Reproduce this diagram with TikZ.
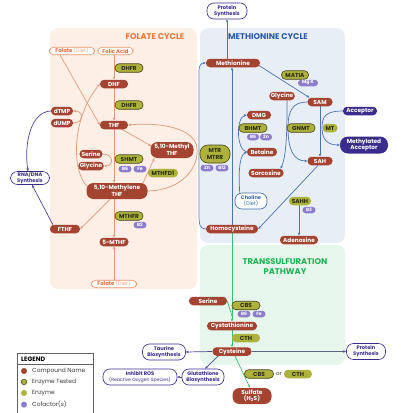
\documentclass[tikz,border=0pt]{standalone}
\usepackage{fontspec}
\setmainfont{Poppins}
\usetikzlibrary{arrows.meta,calc}
\definecolor{folbg}{HTML}{FDEEE6}
\definecolor{metbg}{HTML}{E8EEF6}
\definecolor{trabg}{HTML}{E6F6EC}
\definecolor{foltit}{HTML}{EB7A3A}
\definecolor{mettit}{HTML}{2A5AA6}
\definecolor{tratit}{HTML}{1DB355}
\definecolor{cmpc}{HTML}{A4432F}
\definecolor{enzc}{HTML}{ADB23B}
\definecolor{enzd}{HTML}{46461A}
\definecolor{enzt}{HTML}{2C2C10}
\definecolor{cofc}{HTML}{8C7DCB}
\definecolor{purc}{HTML}{3A2C8C}
\definecolor{follc}{HTML}{DE9C7C}
\definecolor{metlc}{HTML}{4A74AE}
\definecolor{tralc}{HTML}{40BE70}
\definecolor{purlc}{HTML}{4E4894}
\definecolor{slc}{HTML}{5A6783}
\definecolor{folb}{HTML}{E9956A}
\definecolor{folt}{HTML}{E06A38}
\definecolor{folt2}{HTML}{F0A888}
\definecolor{chol}{HTML}{3D6BB0}
\definecolor{legt}{HTML}{3A3A3A}
\newcommand\myfs[2]{\fontsize{#1}{#2}\selectfont}
\pgfdeclarelayer{panel}
\pgfdeclarelayer{edges}
\pgfsetlayers{panel,edges,main}
\begin{document}
\begin{tikzpicture}[x=1pt,y=-1pt,
  base/.style={rounded corners=4pt, minimum height=8.5pt, inner xsep=1.5pt, inner ysep=0pt, align=center, font=\myfs{5.8}{6.4}\bfseries},
  cmp/.style={base, fill=cmpc, text=white},
  cmp2/.style={base, fill=cmpc, text=white, rounded corners=7pt, minimum height=16pt},
  enzT/.style={base, fill=enzc, draw=enzd, line width=0.6pt, text=enzt},
  enz/.style={base, fill=enzc, text=enzt},
  cof/.style={base, fill=cofc, text=white, minimum height=6.5pt, rounded corners=3.2pt, font=\myfs{4.6}{5}\bfseries, minimum width=13pt, inner xsep=1pt},
  outp/.style={base, draw=purc, fill=white, text=purc, line width=0.6pt, rounded corners=7pt, minimum height=15pt, font=\myfs{5.1}{5.8}\bfseries},
  outf/.style={base, draw=folb, fill=white, text=folt, line width=0.6pt, minimum height=7.5pt, font=\myfs{5.3}{5.8}\bfseries},
  dark/.style={base, fill=purc, text=white},
  ttl/.style={font=\myfs{8.3}{10}\bfseries, align=center},
  fl/.style={draw=follc, line width=0.7pt},
  ml/.style={draw=metlc, line width=0.7pt},
  tl/.style={draw=tralc, line width=0.7pt},
  pl/.style={draw=purlc, line width=0.7pt},
  sl/.style={draw=slc, line width=0.7pt},
  arr/.style={-{Stealth[length=3pt,width=2.6pt]}},
  legtxt/.style={anchor=west, font=\myfs{5.9}{6.5}, text=legt, inner sep=0pt}
]
\useasboundingbox (0,0) rectangle (400,413);

% panels
\begin{pgfonlayer}{panel}
\fill[folbg, rounded corners=8pt] (50,28) rectangle (197,289);
\fill[metbg, rounded corners=8pt] (200,28) rectangle (345,243);
\fill[trabg, rounded corners=8pt] (200,245) rectangle (345,365);
\end{pgfonlayer}

% titles
\node[ttl, text=foltit] (tfol) at (155,37) {FOLATE CYCLE};
\node[ttl, text=mettit] (tmet) at (268,37) {METHIONINE CYCLE};
\node[ttl, text=tratit] (ttra) at (285,267) {TRANSSULFURATION\\PATHWAY};

% folate nodes
\node[outf, minimum width=45pt] (fdiet) at (72,51) {Folate \textcolor{folt2}{\mdseries(Diet)}};
\node[outf, minimum width=35pt] (facid) at (115.5,51) {Folic Acid};
\node[enzT, minimum width=28pt] (dhfr1) at (129,68) {DHFR};
\node[cmp, minimum width=28pt] (dhf) at (114,84) {DHF};
\node[enzT, minimum width=28pt] (dhfr2) at (129,105) {DHFR};
\node[cmp, minimum width=22pt] (dtmp) at (62,111) {dTMP};
\node[cmp, minimum width=22pt] (dump) at (62,123) {dUMP};
\node[cmp, minimum width=28pt] (thf) at (114,125) {THF};
\node[cmp, minimum width=23pt] (ser1) at (91,154) {Serine};
\node[cmp, minimum width=23pt] (gly1) at (91,166) {Glycine};
\node[enzT, minimum width=28pt] (shmt) at (129,159) {SHMT};
\node[cof] (b6a) at (125,169) {B6};
\node[cof] (fea) at (140,169) {Fe};
\node[cmp2, minimum width=43pt] (methyl) at (172,150) {5,10-Methyl\\THF};
\node[enz, minimum width=30pt] (mthfd) at (163,173) {MTHFD1};
\node[cmp2, minimum width=61pt] (mlene) at (117,191) {5,10-Methylene\\THF};
\node[enzT, minimum width=28pt] (mthfr) at (129,216) {MTHFR};
\node[cof] (b2) at (140,225) {B2};
\node[cmp, minimum width=30pt] (fthf) at (65,229) {FTHF};
\node[cmp, minimum width=29pt] (mthf) at (114,242) {5-MTHF};
\node[outf, minimum width=45pt] (fdiet2) at (114,284) {Folate \textcolor{folt2}{\mdseries(Diet)}};
\node[outp, minimum width=39pt, minimum height=13pt] (rna) at (30,178) {RNA/DNA\\Synthesis};

% methionine nodes
\node[outp, minimum width=40pt, minimum height=16pt] (prot1) at (227,11) {Protein\\Synthesis};
\node[cmp, minimum width=54pt] (met) at (233,63) {Methionine};
\node[enzT, minimum width=27pt] (matia) at (295,75) {MATIA};
\node[cof, minimum width=20pt] (mgk) at (308,83) {Mg K};
\node[cmp, minimum width=24pt] (gly2) at (282,96) {Glycine};
\node[cmp, minimum width=25pt] (sam) at (320,102) {SAM};
\node[cmp, minimum width=24pt] (dmg) at (259,115) {DMG};
\node[dark, minimum width=34pt] (acc) at (360,111) {Acceptor};
\node[enzT, minimum width=28pt] (bhmt) at (253,128) {BHMT};
\node[enzT, minimum width=28pt] (gnmt) at (301,128) {GNMT};
\node[enz, minimum width=15pt] (mt) at (330,128) {MT};
\node[cof, minimum width=12pt] (b6b) at (253,137) {B6};
\node[cof, minimum width=12pt] (znb) at (266,137) {Zn};
\node[dark, minimum width=48pt, minimum height=17pt, rounded corners=8pt] (macc) at (364,145) {Methylated\\Acceptor};
\node[enzT, minimum width=30pt, minimum height=18pt, rounded corners=8pt] (mtr) at (215,154) {MTR\\MTRR};
\node[cof] (znc) at (207,168) {Zn};
\node[cof] (b12) at (222,168) {B12};
\node[cmp, minimum width=30pt] (bet) at (262,152) {Betaine};
\node[cmp, minimum width=25pt] (sah) at (320,161) {SAH};
\node[cmp, minimum width=35pt] (sarc) at (266,173) {Sarcosine};
\node[base, draw=chol, fill=white, text=chol, line width=0.6pt, rounded corners=7pt, minimum width=32pt, minimum height=16pt, font=\myfs{5.1}{6}] (chol) at (251,201) {\textbf{Choline}\\(Diet)};
\node[enz, minimum width=22pt] (sahh) at (300,201) {SAHH};
\node[cof] (b3) at (309,210) {B3};
\node[cmp, minimum width=52pt] (hcy) at (232,229) {Homocysteine};
\node[cmp, minimum width=38pt] (ado) at (299,240) {Adenosine};

% transsulfuration nodes
\node[cmp, minimum width=38pt] (ser2) at (208,301) {Serine};
\node[enzT, minimum width=28pt] (cbs1) at (246,305.5) {CBS};
\node[cof] (b6c) at (244,314) {B6};
\node[cof] (fec) at (259,314) {Fe};
\node[cmp, minimum width=50pt] (cyst) at (232,326) {Cystathionine};
\node[enz, minimum width=28pt] (cth1) at (246,338) {CTH};
\node[cmp, minimum width=39pt] (cys) at (232,351.5) {Cysteine};
\node[outp, minimum width=39pt, minimum height=16pt] (prot2) at (366,351.5) {Protein\\Synthesis};
\node[enzT, minimum width=29pt] (cbs2) at (259,374) {CBS};
\node[font=\myfs{5.6}{6}, text=legt] (or) at (279,374) {or};
\node[enz, minimum width=28pt] (cth2) at (298,374) {CTH};
\node[cmp2, minimum width=39pt] (sulf) at (252,396) {Sulfate\\(H\textsubscript{2}S)};
\node[outp, minimum width=43pt, minimum height=16pt] (taur) at (164,352) {Taurine\\Biosynthesis};
\node[outp, minimum width=42pt, minimum height=16pt] (glut) at (203,377) {Glutathione\\Biosynthesis};
\node[outp, minimum width=74pt, minimum height=16pt] (ros) at (140,377) {Inhibit ROS\\{\mdseries\myfs{4.6}{5.5}(Reactive Oxygen Species)}};

\coordinate (sj) at (232,316);

% edges
\begin{pgfonlayer}{edges}
% folate
\draw[fl,arr] (dhf.north |- facid.south) -- (dhf.north);
\draw[fl,arr] (dhf.south) -- (thf.north);
\draw[fl,arr] (thf.south) -- (mlene.north -| thf.south);
\draw[fl,arr] (mlene.south -| mthf.north) -- (mthf.north);
\draw[fl,arr] (fdiet2.north) -- (mthf.south);
\draw[fl,arr] ($(fdiet.south)+(-12,0)$) -- (thf.west);
\draw[fl,arr] ($(mlene.west)+(2,-4)$) .. controls (72,175) and (70,120) .. (dhf.west);
\draw[fl,arr] (dump.east) .. controls (84,123) and (84,111) .. (dtmp.east);
\draw[fl,arr] (ser1.east) .. controls (114,154) and (114,166) .. (gly1.east);
\draw[fl,arr] ($(thf.south east)+(-8,-1)$) -- ($(methyl.west)+(1,-4)$);
\draw[fl,arr] ($(mlene.north east)+(-5,1)$) -- ($(methyl.south west)+(4,0)$);
\draw[fl,arr] (mlene.east) .. controls (185,190) and (199,165) .. (197,148) .. controls (195,128) and (160,122) .. (thf.east);
\draw[fl,arr] ($(mlene.south west)+(24,0)$) -- (fthf.east);
\draw[pl,arr] ($(fthf.north west)+(3,0)$) -- ($(rna.south)+(2,0)$);
\draw[pl,arr] (dtmp.west) .. controls (30,112) and (24,145) .. ($(rna.north)+(-2,0)$);
% methionine
\draw[ml,arr] (prot1.south |- met.north) -- (prot1.south);
\draw[ml,arr] ($(met.east)+(-2,2)$) -- ($(sam.north west)+(2,0)$);
\draw[ml,arr] (sam.south) -- (sah.north);
\draw[ml,arr] (acc.west) .. controls (326,111) and (322,116) .. (322,128) .. controls (322,140) and (328,145) .. (macc.west);
\draw[ml,arr] (sam.west) .. controls (293,102) and (288,110) .. (288,128) .. controls (288,148) and (293,161) .. (sah.west);
\draw[ml,arr] ($(gly2.south)+(5,0)$) .. controls (287,125) and (287,155) .. ($(sarc.north east)+(-3,0)$);
\draw[ml,arr] (bet.west) .. controls (236,150) and (236,117) .. (dmg.west);
\draw[ml,arr] ($(chol.north west)+(5,0)$) .. controls (239,180) and (238,156) .. (bet.west);
\draw[ml,arr] (hcy.north) -- (met.south -| hcy.north);
\draw[ml,arr] (hcy.west) .. controls (200,229) and (199,225) .. (199,215) -- (199,72) .. controls (199,65) and (201,63) .. (met.west);
\draw[ml,arr] ($(sah.south)+(-2,0)$) -- (hcy.east);
\draw[ml,arr] (sahh.south -| ado.north) -- (ado.north);
% transsulfuration
\draw[tl,arr] (hcy.south) -- (cyst.north);
\draw[tl] (ser2.east) -- (sj);
\draw[tl,arr] (cyst.south) -- (cys.north);
\draw[tl,arr] ($(cys.south)+(3,0)$) -- ($(sulf.north)+(-2,0)$);
\draw[sl,arr] (cys.east) -- (prot2.west);
\draw[pl,arr] (cys.west) -- (taur.east);
\draw[pl,arr] ($(cys.south west)+(6,0)$) -- ($(glut.north)+(2,0)$);
\draw[pl,arr] (glut.west) -- (ros.east);
\end{pgfonlayer}

% legend
\draw[draw=legt!80, line width=0.6pt, fill=white] (17,353) rectangle (93,416);
\draw[draw=legt!80, line width=0.6pt] (17,364) -- (93,364);
\node[anchor=west, font=\myfs{6.3}{7}\bfseries, text=black, inner sep=0pt] (lgh) at (21,359) {LEGEND};
\fill[cmpc] (24,371) circle (3pt);
\node[legtxt] (lg1) at (32,371) {Compound Name};
\filldraw[fill=enzc, draw=enzd, line width=0.6pt] (24,382) circle (2.7pt);
\node[legtxt] (lg2) at (32,382) {Enzyme Tested};
\fill[enzc] (24,393) circle (3pt);
\node[legtxt] (lg3) at (32,393) {Enzyme};
\fill[cofc] (24,404.6) circle (3pt);
\node[legtxt] (lg4) at (32,404.6) {Cofactor(s)};
\end{tikzpicture}
\end{document}
